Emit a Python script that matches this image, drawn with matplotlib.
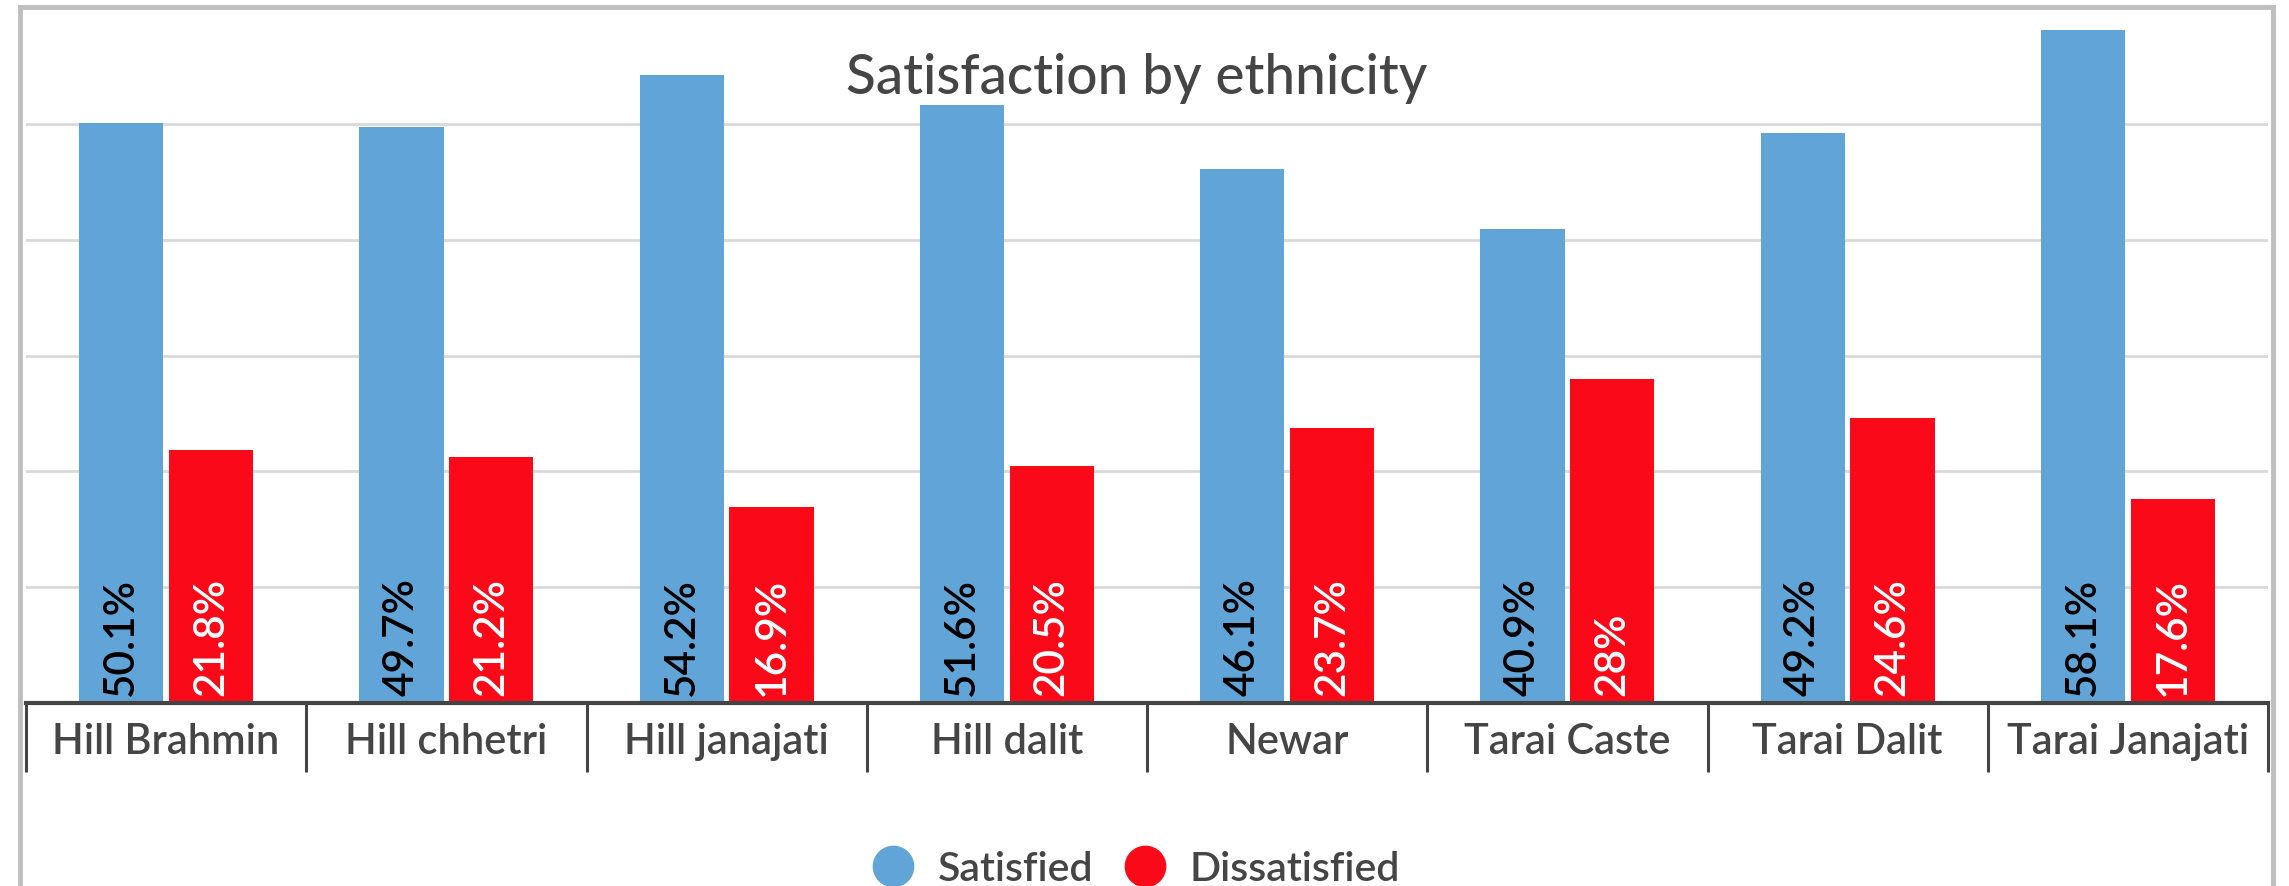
import matplotlib.pyplot as plt
import numpy as np
from matplotlib.lines import Line2D

# data
groups = ["Hill Brahmin", "Hill chhetri", "Hill janajati", "Hill dalit",
          "Newar", "Tarai Caste", "Tarai Dalit", "Tarai Janajati"]
satisfied = [50.1, 49.7, 54.2, 51.6, 46.1, 40.9, 49.2, 58.1]
dissatisfied = [21.8, 21.2, 16.9, 20.5, 23.7, 28.0, 24.6, 17.6]
sat_labels = ["50.1%", "49.7%", "54.2%", "51.6%", "46.1%", "40.9%", "49.2%", "58.1%"]
dis_labels = ["21.8%", "21.2%", "16.9%", "20.5%", "23.7%", "28%", "24.6%", "17.6%"]

blue = "#61a5d8"
red = "#fa0a19"
txt = "#454545"

plt.rcParams["font.family"] = ["Lato", "DejaVu Sans"]
plt.rcParams["font.weight"] = "semibold"

W, H = 2289, 887
fig = plt.figure(figsize=(W / 100, H / 100), dpi=100)
ax = fig.add_axes([26 / W, 1 - 704 / H, (2268 - 26) / W, (704 - 9) / H])

x = np.arange(len(groups))
bw = 0.30
ax.bar(x - 0.16, satisfied, bw, color=blue, zorder=3)
ax.bar(x + 0.16, dissatisfied, bw, color=red, zorder=3)

# value labels sit at the foot of each bar
for xi, lab in zip(x, sat_labels):
    ax.annotate(lab, (xi - 0.16, 0), xytext=(0, 6), textcoords="offset points",
                rotation=90, ha="center", va="bottom", fontsize=30.5, color="black", zorder=4)
for xi, lab in zip(x, dis_labels):
    ax.annotate(lab, (xi + 0.16, 0), xytext=(0, 6), textcoords="offset points",
                rotation=90, ha="center", va="bottom", fontsize=30.5, color="white", zorder=4)

ax.set_xlim(-0.5, len(groups) - 0.5)
ax.set_ylim(0, 60)
ax.set_yticks([10, 20, 30, 40, 50])
ax.yaxis.grid(True, color="#d9d9d9", linewidth=2)
ax.tick_params(axis="y", left=False, labelleft=False)

ax.set_xticks(x)
ax.set_xticklabels(groups, fontsize=30, color=txt)
ax.set_xticks(np.arange(-0.5, len(groups)), minor=True)
ax.tick_params(axis="x", which="major", length=0, pad=14)
ax.tick_params(axis="x", which="minor", length=50, width=2.2, color="#444444")

for s in ["top", "left", "right"]:
    ax.spines[s].set_visible(False)
ax.spines["bottom"].set_color("#444444")
ax.spines["bottom"].set_linewidth(3)
ax.spines["bottom"].set_zorder(5)

# outer frame (left, top, right) in figure coords
frame = "#bfbfbf"
fig.add_artist(Line2D([20 / W, 20 / W], [0, 1 - 8 / H], color=frame, lw=3.5))
fig.add_artist(Line2D([20 / W, 2273 / W], [1 - 8 / H, 1 - 8 / H], color=frame, lw=3.5))
fig.add_artist(Line2D([2273 / W, 2273 / W], [0, 1 - 8 / H], color=frame, lw=3.5))

fig.text(0.4965, 1 - 79 / H, "Satisfaction by ethnicity", fontsize=39.5, color=txt,
         ha="center", va="center", fontweight="medium")

handles = [Line2D([], [], marker="o", ls="", markersize=29, color=blue),
           Line2D([], [], marker="o", ls="", markersize=29, color=red)]
leg = fig.legend(handles, ["Satisfied", "Dissatisfied"], loc="center",
                 bbox_to_anchor=(0.4965, 1 - 870 / H), ncol=2, frameon=False,
                 fontsize=29.5, handlelength=1.0, handletextpad=0.6,
                 columnspacing=0.75, labelcolor=txt)

fig.savefig("out.png", dpi=100)
